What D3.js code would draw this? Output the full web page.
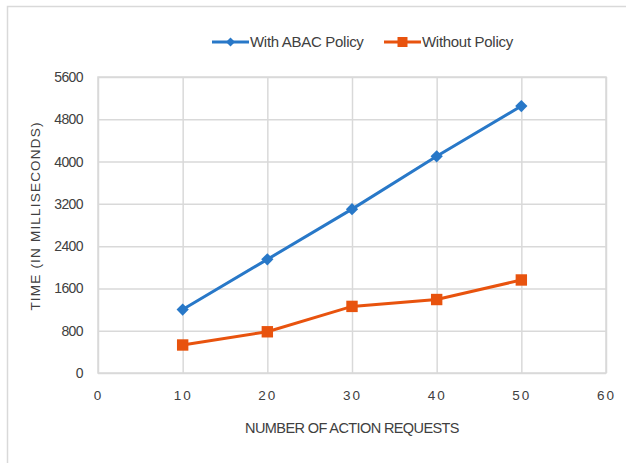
<!DOCTYPE html>
<html>
<head>
<meta charset="utf-8">
<script src="https://cdn.jsdelivr.net/npm/d3@7"></script>
<style>
  body { margin: 0; background: #fff; }
  text { font-family: "Liberation Sans", Arial, sans-serif; fill: #404040; }
</style>
</head>
<body>
<div id="chart"></div>
<script>
// Data
var requests = [10, 20, 30, 40, 50];
var withAbac = [1200, 2150, 3100, 4100, 5050];
var withoutPolicy = [530, 780, 1260, 1390, 1760];
var seriesNames = ["With ABAC Policy", "Without Policy"];
var xTicks = [0, 10, 20, 30, 40, 50, 60];
var yTicks = [0, 800, 1600, 2400, 3200, 4000, 4800, 5600];

var svgWidth = 626;
var svgHeight = 463;

var margin = { top: 77, right: 20, bottom: 90, left: 98 };
var width = 606 - margin.left;
var height = 373 - margin.top;

var svg = d3.select("#chart")
  .append("svg")
  .attr("width", svgWidth)
  .attr("height", svgHeight);

// outer frame (only left and top visible)
svg.append("path")
  .attr("d", "M7.5,463 V6.5 H626")
  .attr("fill", "none")
  .attr("stroke", "#d9d9d9")
  .attr("stroke-width", 1.5);

var chartGroup = svg.append("g")
  .attr("transform", `translate(${margin.left}, ${margin.top})`);

var x = d3.scaleLinear().domain([0, 60]).range([0, width]);
var y = d3.scaleLinear().domain([0, 5600]).range([height, 0]);

// gridlines
chartGroup.append("g")
  .attr("transform", `translate(0, ${height})`)
  .call(d3.axisBottom(x).tickValues(xTicks).tickSize(-height).tickFormat(""))
  .call(g => g.select(".domain").remove())
  .call(g => g.selectAll("line").attr("stroke", "#d9d9d9").attr("stroke-width", 1.5));

chartGroup.append("g")
  .call(d3.axisLeft(y).tickValues(yTicks).tickSize(-width).tickFormat(""))
  .call(g => g.select(".domain").remove())
  .call(g => g.selectAll("line").attr("stroke", "#d9d9d9").attr("stroke-width", 1.5));

chartGroup.append("rect")
  .attr("width", width)
  .attr("height", height)
  .attr("fill", "none")
  .attr("stroke", "#d9d9d9")
  .attr("stroke-width", 1.5);

// tick labels
chartGroup.append("g")
  .attr("transform", `translate(0, ${height})`)
  .call(d3.axisBottom(x).tickValues(xTicks).tickSize(0).tickPadding(17))
  .call(g => g.select(".domain").remove())
  .call(g => g.selectAll("text")
    .attr("font-size", 13.5)
    .attr("letter-spacing", "2px")
    .attr("fill", "#404040")
    .style("font-family", "'Liberation Sans', Arial, sans-serif"));

chartGroup.append("g")
  .call(d3.axisLeft(y).tickValues(yTicks).tickSize(0).tickPadding(15).tickFormat(d3.format("d")))
  .call(g => g.select(".domain").remove())
  .call(g => g.selectAll("text")
    .attr("font-size", 14)
    .attr("letter-spacing", "-0.6px")
    .attr("fill", "#404040")
    .style("font-family", "'Liberation Sans', Arial, sans-serif"));

// lines
var colors = ["#2878c8", "#e8530e"];
var allSeries = [withAbac, withoutPolicy];

var line = d3.line()
  .x((d, i) => x(requests[i]))
  .y(d => y(d));

allSeries.forEach(function(vals, s) {
  chartGroup.append("path")
    .datum(vals)
    .attr("d", line)
    .attr("fill", "none")
    .attr("stroke", colors[s])
    .attr("stroke-width", 3);
});

chartGroup.selectAll(".dia")
  .data(withAbac)
  .enter()
  .append("path")
  .attr("transform", (d, i) => `translate(${x(requests[i])}, ${y(d)}) rotate(45)`)
  .attr("d", d3.symbol().type(d3.symbolSquare).size(75))
  .attr("fill", colors[0]);

chartGroup.selectAll(".sq")
  .data(withoutPolicy)
  .enter()
  .append("path")
  .attr("transform", (d, i) => `translate(${x(requests[i])}, ${y(d)})`)
  .attr("d", d3.symbol().type(d3.symbolSquare).size(130))
  .attr("fill", colors[1]);

// legend
var legend = svg.append("g").attr("transform", "translate(212, 42)");
var legendX = [0, 172];
seriesNames.forEach(function(name, s) {
  var g = legend.append("g").attr("transform", `translate(${legendX[s]}, 0)`);
  g.append("line")
    .attr("x1", 0).attr("x2", 37)
    .attr("stroke", colors[s])
    .attr("stroke-width", 3);
  g.append("path")
    .attr("transform", s === 0 ? "translate(18.5,0) rotate(45)" : "translate(18.5,0)")
    .attr("d", d3.symbol().type(d3.symbolSquare).size(s === 0 ? 40 : 100))
    .attr("fill", colors[s]);
  g.append("text")
    .attr("x", 38)
    .attr("y", 5)
    .attr("font-size", 15)
    .attr("letter-spacing", "-0.3px")
    .attr("fill", "#333")
    .text(name);
});

// axis titles
svg.append("text")
  .attr("transform", "translate(40, 216) rotate(-90)")
  .attr("text-anchor", "middle")
  .attr("font-size", 13.5)
  .attr("letter-spacing", "1.2px")
  .text("TIME (IN MILLISECONDS)");

svg.append("text")
  .attr("x", 352)
  .attr("y", 433)
  .attr("text-anchor", "middle")
  .attr("font-size", 14.5)
  .attr("letter-spacing", "-0.6px")
  .attr("fill", "#333")
  .text("NUMBER OF ACTION REQUESTS");
</script>
</body>
</html>
